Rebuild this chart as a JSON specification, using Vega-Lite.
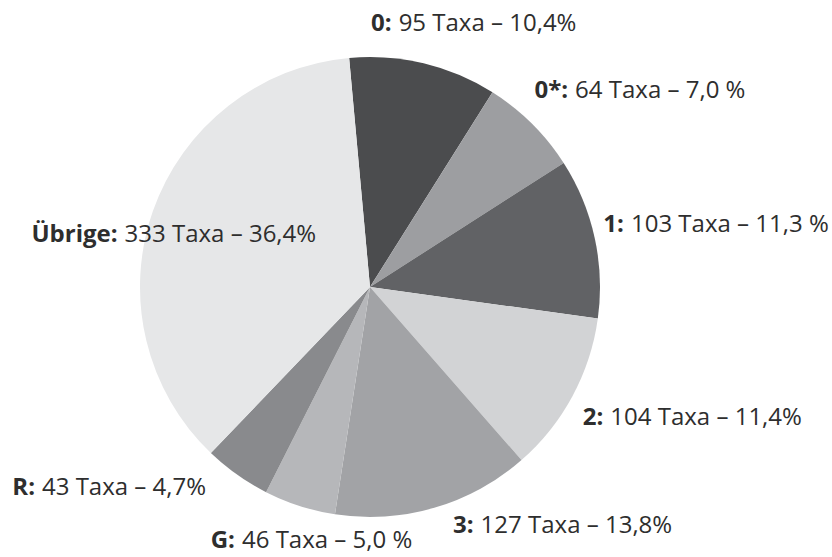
{
  "$schema": "https://vega.github.io/schema/vega-lite/v6.json",
  "width": 740,
  "height": 574,
  "autosize": {"type": "none"},
  "padding": {"left": 0, "top": 0, "right": 92, "bottom": 0},
  "background": "white",
  "config": {"view": {"stroke": null}},
  "data": {
    "values": [
      {"i": 0, "cat": "0", "label": "0:", "n": 95, "txt": "95 Taxa – 10,4%"},
      {"i": 1, "cat": "0*", "label": "0*:", "n": 64, "txt": "64 Taxa – 7,0 %"},
      {"i": 2, "cat": "1", "label": "1:", "n": 103, "txt": "103 Taxa – 11,3 %"},
      {"i": 3, "cat": "2", "label": "2:", "n": 104, "txt": "104 Taxa – 11,4%"},
      {"i": 4, "cat": "3", "label": "3:", "n": 127, "txt": "127 Taxa – 13,8%"},
      {"i": 5, "cat": "G", "label": "G:", "n": 46, "txt": "46 Taxa – 5,0 %"},
      {"i": 6, "cat": "R", "label": "R:", "n": 43, "txt": "43 Taxa – 4,7%"},
      {"i": 7, "cat": "Übrige", "label": "Übrige:", "n": 333, "txt": "333 Taxa – 36,4%"}
    ]
  },
  "encoding": {
    "theta": {"field": "n", "type": "quantitative", "stack": true, "scale": {"range": [-0.0908, 6.1924]}},
    "order": {"field": "i", "type": "quantitative"}
  },
  "layer": [
    {
      "mark": {"type": "arc", "outerRadius": 230, "stroke": null},
      "encoding": {
        "color": {
          "field": "cat",
          "type": "nominal",
          "sort": ["0", "0*", "1", "2", "3", "G", "R", "Übrige"],
          "scale": {
            "domain": ["0", "0*", "1", "2", "3", "G", "R", "Übrige"],
            "range": ["#4b4c4e", "#9d9ea1", "#616265", "#d2d3d5", "#a2a3a6", "#b6b7ba", "#898a8d", "#e6e7e8"]
          },
          "legend": null
        }
      }
    },
    {
      "mark": {
        "type": "text",
        "radius": 260,
        "font": "Open Sans",
        "fontSize": 24,
        "fontWeight": "bold",
        "color": "#2e2e2e",
        "align": "right",
        "baseline": "alphabetic",
        "dx": {"expr": "[-39, 15, 0, 4.5, 31, -55.5, -184.7, -7][datum.i]"},
        "dy": {"expr": "[-3, -4.5, 1, 14.7, -3.7, 13.5, -4, 41][datum.i]"}
      },
      "encoding": {"text": {"field": "label", "type": "nominal"}}
    },
    {
      "mark": {
        "type": "text",
        "radius": 260,
        "font": "Open Sans",
        "fontSize": 24,
        "color": "#2e2e2e",
        "align": "left",
        "baseline": "alphabetic",
        "dx": {"expr": "[-39, 15, 0, 4.5, 31, -55.5, -184.7, -7][datum.i] + 7"},
        "dy": {"expr": "[-3, -4.5, 1, 14.7, -3.7, 13.5, -4, 41][datum.i]"}
      },
      "encoding": {"text": {"field": "txt", "type": "nominal"}}
    }
  ]
}
